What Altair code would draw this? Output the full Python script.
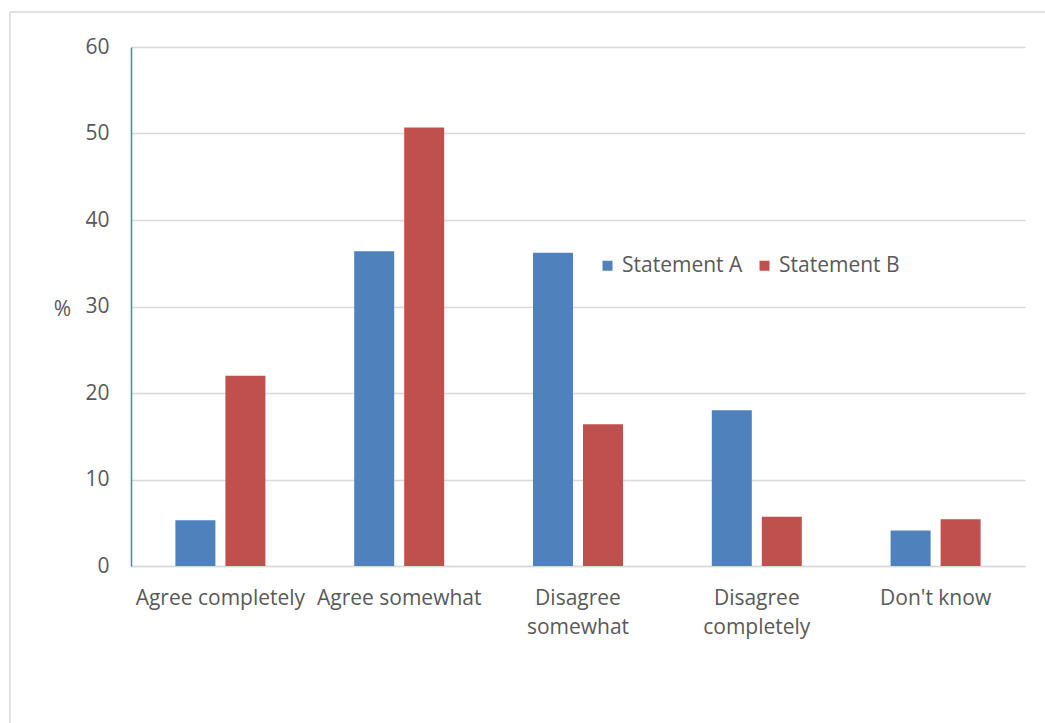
import altair as alt
import pandas as pd

categories = ["Agree completely", "Agree somewhat", "Disagree somewhat",
              "Disagree completely", "Don't know"]
series_names = ["Statement A", "Statement B"]
statement_a = [5.3, 36.4, 36.2, 18.0, 4.1]
statement_b = [22.0, 50.7, 16.4, 5.7, 5.4]
y_ticks = [0, 10, 20, 30, 40, 50, 60]
colors = ["#4F81BD", "#C0504D"]

rows = []
for c, a, b in zip(categories, statement_a, statement_b):
    rows.append({"category": c, "series": series_names[0], "value": a})
    rows.append({"category": c, "series": series_names[1], "value": b})
df = pd.DataFrame(rows)

FONT = "Open Sans"
TXT = "#595959"
GRID = "#D9D9D9"
FS = 21

bars = alt.Chart(df).mark_bar().encode(
    x=alt.X(
        "category:N",
        sort=categories,
        scale=alt.Scale(paddingInner=0, paddingOuter=0),
        axis=alt.Axis(
            title=None, labelAngle=0, ticks=False, grid=False,
            domainColor=GRID, domainWidth=1.5,
            labelFont=FONT, labelFontSize=FS, labelColor=TXT,
            labelPadding=21, labelLineHeight=29, labelBaseline="top",
            labelExpr="indexof(datum.label, 'Disagree') == 0 ? split(datum.label, ' ') : datum.label",
        ),
    ),
    xOffset=alt.XOffset(
        "series:N", sort=series_names,
        scale=alt.Scale(paddingInner=0.2, paddingOuter=0.888),
    ),
    y=alt.Y(
        "value:Q",
        scale=alt.Scale(domain=[0, 60], nice=False),
        axis=alt.Axis(
            values=y_ticks, title="%", titleAngle=0, titleX=-69, titleY=262,
            titleAlign="center", titleBaseline="middle",
            titleFont=FONT, titleFontSize=FS, titleFontWeight="normal", titleColor=TXT,
            ticks=False, labelPadding=22,
            labelFont=FONT, labelFontSize=FS, labelColor=TXT,
            domainColor="#4F81BD", domainWidth=1.5,
            grid=True, gridColor=GRID, gridWidth=1.5,
        ),
    ),
    color=alt.Color(
        "series:N",
        scale=alt.Scale(domain=series_names, range=colors),
        legend=alt.Legend(
            title=None, orient="none", legendX=466, legendY=208,
            direction="horizontal", symbolType="square", symbolSize=100,
            symbolStrokeWidth=0, labelFont=FONT, labelFontSize=FS,
            labelColor=TXT, labelOffset=4, columnPadding=11, padding=0,
        ),
    ),
)

frame = pd.DataFrame({"k": [0]})
left_border = alt.Chart(frame).mark_rule(color=GRID, strokeWidth=1.5).encode(
    x=alt.value(-121), y=alt.value(-35), y2=alt.value(700)
)
top_border = alt.Chart(frame).mark_rule(color=GRID, strokeWidth=1.5).encode(
    x=alt.value(-121), x2=alt.value(930), y=alt.value(-35)
)

chart = alt.layer(left_border, top_border, bars).properties(
    width=894, height=519,
    padding={"left": 131, "top": 47, "right": 20, "bottom": 157},
    autosize=alt.AutoSizeParams(type="none"),
    background="white",
).configure_view(stroke=None)

chart.save("out.html", embed_options={"renderer": "svg", "actions": False})
